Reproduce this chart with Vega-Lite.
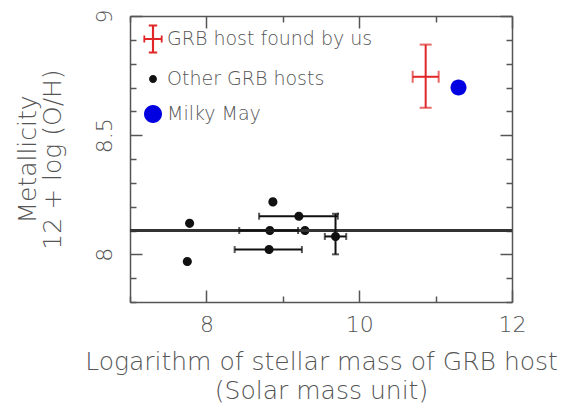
{
  "$schema": "https://vega.github.io/schema/vega-lite/v6.json",
  "width": 382,
  "height": 286,
  "autosize": "none",
  "padding": {"left": 130, "top": 16, "right": 58, "bottom": 104},
  "background": "white",
  "config": {
    "view": {"stroke": null},
    "font": "DejaVu Sans",
    "axis": {
      "grid": false,
      "domainColor": "#555",
      "domainWidth": 1.5,
      "tickColor": "#555",
      "tickWidth": 1.5,
      "labelColor": "#555",
      "titleColor": "#555",
      "titleFontWeight": 200,
      "labelFontWeight": 200,
      "labelFont": "DejaVu Sans",
      "titleFont": "DejaVu Sans",
      "labelFontSize": 22,
      "titleFontSize": 25,
      "labelFlush": false,
      "labelOverlap": false
    },
    "legend": {
      "orient": "top-left",
      "offset": 11,
      "padding": 0,
      "rowPadding": 13,
      "symbolSize": 576,
      "symbolStrokeWidth": 0,
      "labelFont": "DejaVu Sans",
      "labelFontSize": 19,
      "labelFontWeight": 200,
      "labelColor": "#555",
      "labelOffset": 2,
      "labelLimit": 0
    }
  },
  "data": {
    "values": [
      {"series": "Other GRB hosts", "x": 7.78, "y": 8.13},
      {"series": "Other GRB hosts", "x": 7.75, "y": 7.97},
      {"series": "Other GRB hosts", "x": 8.87, "y": 8.22},
      {"series": "Other GRB hosts", "x": 8.83, "y": 8.1, "xlo": 8.43, "xhi": 9.2},
      {"series": "Other GRB hosts", "x": 8.82, "y": 8.02, "xlo": 8.37, "xhi": 9.25},
      {"series": "Other GRB hosts", "x": 9.21, "y": 8.16, "xlo": 8.69, "xhi": 9.72},
      {"series": "Other GRB hosts", "x": 9.29, "y": 8.1},
      {"series": "Other GRB hosts", "x": 9.69, "y": 8.075, "xlo": 9.55, "xhi": 9.83, "ylo": 8.0, "yhi": 8.17},
      {"series": "GRB host found by us", "x": 10.87, "y": 8.745, "xlo": 10.7, "xhi": 11.04, "ylo": 8.615, "yhi": 8.88},
      {"series": "Milky May", "x": 11.3, "y": 8.7}
    ]
  },
  "resolve": {"axis": {"x": "independent", "y": "independent"}},
  "layer": [
    {
      "transform": [{"filter": "datum.series === 'Other GRB hosts'"}],
      "mark": {"type": "point", "filled": true, "opacity": 1, "strokeWidth": 0, "size": 760},
      "encoding": {
        "x": {"field": "x", "type": "quantitative", "scale": {"domain": [7, 12], "nice": false, "zero": false},
          "axis": {"orient": "bottom", "values": [7, 8, 9, 10, 11, 12],
            "labelExpr": "datum.value % 2 === 0 && datum.value > 7 ? '' + datum.value : ''",
            "tickSize": {"condition": {"test": "datum.value % 2 === 0", "value": -12}, "value": -6},
            "labelPadding": 24,
            "title": ["Logarithm of stellar mass of GRB host", "(Solar mass unit)"],
            "titleLineHeight": 29,
            "titlePadding": 8}},
        "y": {"field": "y", "type": "quantitative", "scale": {"domain": [7.8, 9], "nice": false, "zero": false},
          "axis": {"orient": "left", "values": [7.8, 7.9, 8, 8.1, 8.2, 8.3, 8.4, 8.5, 8.6, 8.7, 8.8, 8.9, 9],
            "labelExpr": "(datum.value === 8 || datum.value === 8.5 || datum.value === 9) ? '' + datum.value : ''",
            "tickSize": {"condition": {"test": "datum.value === 8 || datum.value === 8.5 || datum.value === 9", "value": -12}, "value": -6},
            "labelAngle": -90,
            "labelPadding": 26,
            "title": ["Metallicity", "12 + log (O/H)"],
            "titleLineHeight": 25,
            "titlePadding": 22}},
        "color": {"field": "series", "type": "nominal",
          "scale": {"domain": ["GRB host found by us", "Other GRB hosts", "Milky May"], "range": ["#e02626", "#111111", "#0000e0"]},
          "legend": {"title": null, "values": ["GRB host found by us", "Other GRB hosts", "Milky May"]}},
        "shape": {"field": "series", "type": "nominal",
          "scale": {"domain": ["GRB host found by us", "Other GRB hosts", "Milky May"],
            "range": [
              "M-0.09,-1.15L0.09,-1.15L0.09,1.15L-0.09,1.15ZM-0.35,-1.2L0.35,-1.2L0.35,-1.05L-0.35,-1.05ZM-0.35,1.05L0.35,1.05L0.35,1.2L-0.35,1.2ZM-0.75,-0.09L0.75,-0.09L0.75,0.09L-0.75,0.09ZM-0.8,-0.3L-0.65,-0.3L-0.65,0.3L-0.8,0.3ZM0.65,-0.3L0.8,-0.3L0.8,0.3L0.65,0.3Z",
              "M-0.33,0C-0.33,-0.182 -0.182,-0.33 0,-0.33C0.182,-0.33 0.33,-0.182 0.33,0C0.33,0.182 0.182,0.33 0,0.33C-0.182,0.33 -0.33,0.182 -0.33,0Z",
              "M-0.75,0C-0.75,-0.414 -0.414,-0.75 0,-0.75C0.414,-0.75 0.75,-0.414 0.75,0C0.75,0.414 0.414,0.75 0,0.75C-0.414,0.75 -0.75,0.414 -0.75,0Z"
            ]},
          "legend": {"title": null, "values": ["GRB host found by us", "Other GRB hosts", "Milky May"]}}
      }
    },
    {
      "transform": [{"filter": "datum.series === 'Milky May'"}],
      "mark": {"type": "point", "filled": true, "opacity": 1, "strokeWidth": 0, "size": 455},
      "encoding": {
        "x": {"field": "x", "type": "quantitative", "axis": null},
        "y": {"field": "y", "type": "quantitative", "axis": null},
        "color": {"field": "series", "type": "nominal"},
        "shape": {"field": "series", "type": "nominal"}
      }
    },
    {
      "mark": {"type": "rule", "color": "#333", "strokeWidth": 2},
      "encoding": {
        "y": {"datum": 8.1, "type": "quantitative", "axis": null}
      }
    },
    {
      "transform": [{"filter": "isValid(datum.xlo)"}],
      "mark": {"type": "rule", "strokeWidth": 2},
      "encoding": {
        "x": {"field": "xlo", "type": "quantitative",
          "axis": {"orient": "top", "values": [7, 8, 9, 10, 11, 12], "labels": false, "title": null,
            "tickSize": {"condition": {"test": "datum.value % 2 === 0", "value": -12}, "value": -6}}},
        "x2": {"field": "xhi"},
        "y": {"field": "y", "type": "quantitative",
          "axis": {"orient": "right", "values": [7.8, 7.9, 8, 8.1, 8.2, 8.3, 8.4, 8.5, 8.6, 8.7, 8.8, 8.9, 9], "labels": false, "title": null,
            "tickSize": {"condition": {"test": "datum.value === 8 || datum.value === 8.5 || datum.value === 9", "value": -12}, "value": -6}}},
        "color": {"field": "series", "type": "nominal"}
      }
    },
    {
      "transform": [{"filter": "isValid(datum.ylo)"}],
      "mark": {"type": "rule", "strokeWidth": 2},
      "encoding": {
        "x": {"field": "x", "type": "quantitative", "axis": null},
        "y": {"field": "ylo", "type": "quantitative", "axis": null},
        "y2": {"field": "yhi"},
        "color": {"field": "series", "type": "nominal"}
      }
    },
    {
      "transform": [{"filter": "isValid(datum.xlo)"}],
      "mark": {"type": "tick", "orient": "vertical", "thickness": 2},
      "encoding": {
        "x": {"field": "xlo", "type": "quantitative", "axis": null},
        "y": {"field": "y", "type": "quantitative", "axis": null},
        "size": {"condition": {"test": "datum.series === 'GRB host found by us'", "value": 12}, "value": 7},
        "color": {"field": "series", "type": "nominal"}
      }
    },
    {
      "transform": [{"filter": "isValid(datum.xhi)"}],
      "mark": {"type": "tick", "orient": "vertical", "thickness": 2},
      "encoding": {
        "x": {"field": "xhi", "type": "quantitative", "axis": null},
        "y": {"field": "y", "type": "quantitative", "axis": null},
        "size": {"condition": {"test": "datum.series === 'GRB host found by us'", "value": 12}, "value": 7},
        "color": {"field": "series", "type": "nominal"}
      }
    },
    {
      "transform": [{"filter": "isValid(datum.ylo)"}],
      "mark": {"type": "tick", "orient": "horizontal", "thickness": 2},
      "encoding": {
        "x": {"field": "x", "type": "quantitative", "axis": null},
        "y": {"field": "ylo", "type": "quantitative", "axis": null},
        "size": {"condition": {"test": "datum.series === 'GRB host found by us'", "value": 12}, "value": 7},
        "color": {"field": "series", "type": "nominal"}
      }
    },
    {
      "transform": [{"filter": "isValid(datum.yhi)"}],
      "mark": {"type": "tick", "orient": "horizontal", "thickness": 2},
      "encoding": {
        "x": {"field": "x", "type": "quantitative", "axis": null},
        "y": {"field": "yhi", "type": "quantitative", "axis": null},
        "size": {"condition": {"test": "datum.series === 'GRB host found by us'", "value": 12}, "value": 7},
        "color": {"field": "series", "type": "nominal"}
      }
    }
  ]
}
